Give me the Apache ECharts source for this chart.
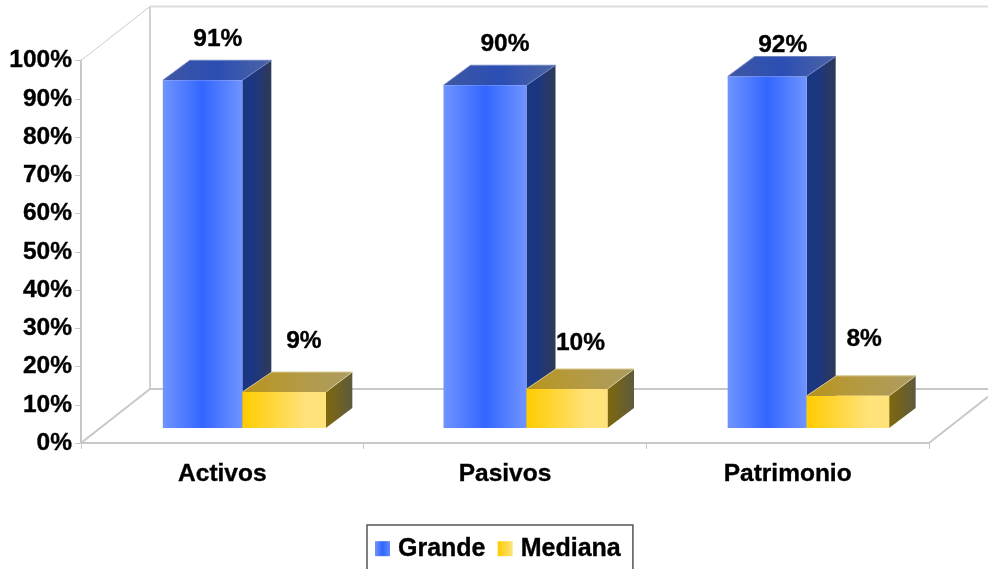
<!DOCTYPE html>
<html>
<head>
<meta charset="utf-8">
<style>html,body{margin:0;padding:0;background:#fff}#c{width:988px;height:569px}</style>
<script src="https://cdn.jsdelivr.net/npm/echarts@6/dist/echarts.min.js"></script>
</head>
<body>
<div id="c"></div>
<script>
const categories = ['Activos', 'Pasivos', 'Patrimonio'];
const grande = [90.9, 89.6, 91.9];
const mediana = [9.4, 10.2, 8.4];
const seriesNames = ['Grande', 'Mediana'];

// Layout / style constants (pixels relative to the scales)
const FONT = '"Liberation Sans", Arial, sans-serif';
const FLOOR_LIFT = 15;
const DEPTH_Y = -20;
const DEPTH_X = { Grande: [27, 29], Mediana: [29.5, 26.5] };
const WALL_DEPTH = [69, -54];
const BAR_EDGES = [[-59.5, 20, 103.5], [-61.5, 21.5, 102.5], [-60, 19, 101.5]];
const LABEL_POS = {
  Grande: [[-4.5, -41.5], [0, -41.5], [-5, -31.5]],
  Mediana: [[81.5, -51], [75.5, -45.5], [76.5, -57]]
};
const TEXT_THICKEN = 0.35;
const grad = (stops) => new echarts.graphic.LinearGradient(0, 0, 1, 0,
  stops.map((c) => ({ offset: c[0], color: c[1] })));
const STYLES = {
  Grande: {
    front: [[0, '#6f94ff'], [0.5, '#3366ff'], [1, '#6f94ff']],
    top: [[0, '#3f57a3'], [0.5, '#2b4eb4'], [1, '#4d64a3']],
    side: [[0, '#1a3684'], [0.4, '#1c3680'], [1, '#2f3a58']],
    edge: '#6d82c4'
  },
  Mediana: {
    front: [[0, '#ffcc00'], [0.75, '#ffe27a'], [1, '#ffe27a']],
    top: [[0, '#b8941c'], [0.5, '#b49a44'], [1, '#ab9c62']],
    side: [[0, '#7f680c'], [1, '#5e5a3e']],
    edge: '#d8c890'
  }
};

function barRenderer(name, edgeIdx) {
  const st = STYLES[name];
  return function (params, api) {
    const i = api.value(0), v = api.value(1);
    const cx = api.coord([i, 0])[0];
    const y0 = api.coord([i, 0])[1] - FLOOR_LIFT;
    const yT = api.coord([i, v])[1] - FLOOR_LIFT;
    const x0 = cx + BAR_EDGES[i][edgeIdx], x1 = cx + BAR_EDGES[i][edgeIdx + 1];
    const [dxL, dxR] = DEPTH_X[name];
    const dy = DEPTH_Y;
    const lp = LABEL_POS[name][i];
    return {
      type: 'group',
      children: [
        { type: 'polygon', shape: { points: [[x1, yT], [x1 + dxR, yT + dy], [x1 + dxR, y0 + dy], [x1, y0]] }, style: { fill: grad(st.side) } },
        { type: 'polygon', shape: { points: [[x0, yT], [x0 + dxL, yT + dy], [x1 + dxR, yT + dy], [x1, yT]] }, style: { fill: grad(st.top) } },
        { type: 'polyline', shape: { points: [[x0, yT], [x0 + dxL, yT + dy], [x1 + dxR, yT + dy], [x1, yT]] }, style: { fill: 'none', stroke: st.edge, lineWidth: 1 } },
        { type: 'rect', shape: { x: x0, y: yT, width: x1 - x0, height: y0 - yT }, style: { fill: grad(st.front) } },
        { type: 'text', x: cx + lp[0], y: yT + lp[1], style: {
            text: Math.round(v) + '%', font: 'bold 24.5px ' + FONT, fill: '#000', stroke: '#000', lineWidth: TEXT_THICKEN, align: 'center', verticalAlign: 'middle' } }
      ]
    };
  };
}

function frameRenderer(params) {
  const c = params.coordSys;
  const L = c.x, R = c.x + c.width, T = c.y, B = c.y + c.height;
  const [dx, dy] = WALL_DEPTH;
  const line = (x1, y1, x2, y2, color, w) => ({ type: 'line', shape: { x1, y1, x2, y2 }, style: { stroke: color, lineWidth: w } });
  return {
    type: 'group',
    children: [
      line(L + dx, T + dy, L + dx, B + dy, '#d2d2d2', 2),
      line(L + dx, T + dy, R + dx, T + dy, '#dddddd', 2),
      line(L + dx, B + dy, R + dx, B + dy, '#c8c8c8', 2),
      line(L, T, L + dx, T + dy, '#cccccc', 1),
      line(L, B, L + dx, B + dy, '#c8c8c8', 2),
      line(R, B, R + dx, B + dy, '#c8c8c8', 2)
    ]
  };
}

const chart = echarts.init(document.getElementById('c'), null, { renderer: 'canvas' });
const axisLine = { show: true, lineStyle: { color: '#c8c8c8', width: 2 } };
const labelBold = { fontFamily: FONT, fontWeight: 'bold', color: '#000', textBorderColor: '#000', textBorderWidth: TEXT_THICKEN };
chart.setOption({
  animation: false,
  backgroundColor: '#fff',
  textStyle: { fontFamily: FONT },
  grid: { left: 81, top: 60.5, width: 848, height: 382.5, containLabel: false },
  legend: {
    data: seriesNames,
    left: 367,
    top: 525,
    orient: 'horizontal',
    itemWidth: 15,
    itemHeight: 15,
    itemGap: 12,
    icon: 'rect',
    padding: [11, 12, 30, 8],
    borderColor: '#555',
    borderWidth: 1.5,
    backgroundColor: '#fff',
    selectedMode: false,
    textStyle: Object.assign({}, labelBold, { fontSize: 25, padding: [0, 0, 0, 3] })
  },
  xAxis: {
    type: 'category',
    data: categories,
    axisLine,
    axisTick: { show: true, length: 6, lineStyle: { color: '#c8c8c8', width: 1 } },
    axisLabel: Object.assign({ margin: 19, fontSize: 24.5 }, labelBold)
  },
  yAxis: {
    type: 'value',
    min: 0,
    max: 100,
    interval: 10,
    axisLine,
    axisTick: { show: true, length: 6, lineStyle: { color: '#c8c8c8', width: 1 } },
    splitLine: { show: false },
    axisLabel: Object.assign({ margin: 9, formatter: '{value}%', fontSize: 24.5, padding: [2, 0, 0, 0] }, labelBold)
  },
  series: [
    { type: 'custom', name: 'frame', renderItem: frameRenderer, data: [[0, 0]], encode: { x: 0, y: 1 }, silent: true, z: 1 },
    {
      type: 'custom', name: seriesNames[0], renderItem: barRenderer('Grande', 0), z: 2,
      data: grande.map((v, i) => [i, v]), encode: { x: 0, y: 1 },
      itemStyle: { color: grad([[0, '#6f94ff'], [0.5, '#3366ff'], [1, '#5f88ff']]) }
    },
    {
      type: 'custom', name: seriesNames[1], renderItem: barRenderer('Mediana', 1), z: 3,
      data: mediana.map((v, i) => [i, v]), encode: { x: 0, y: 1 },
      itemStyle: { color: grad([[0, '#ffcc00'], [1, '#ffe27a']]) }
    }
  ]
});
</script>
</body>
</html>
